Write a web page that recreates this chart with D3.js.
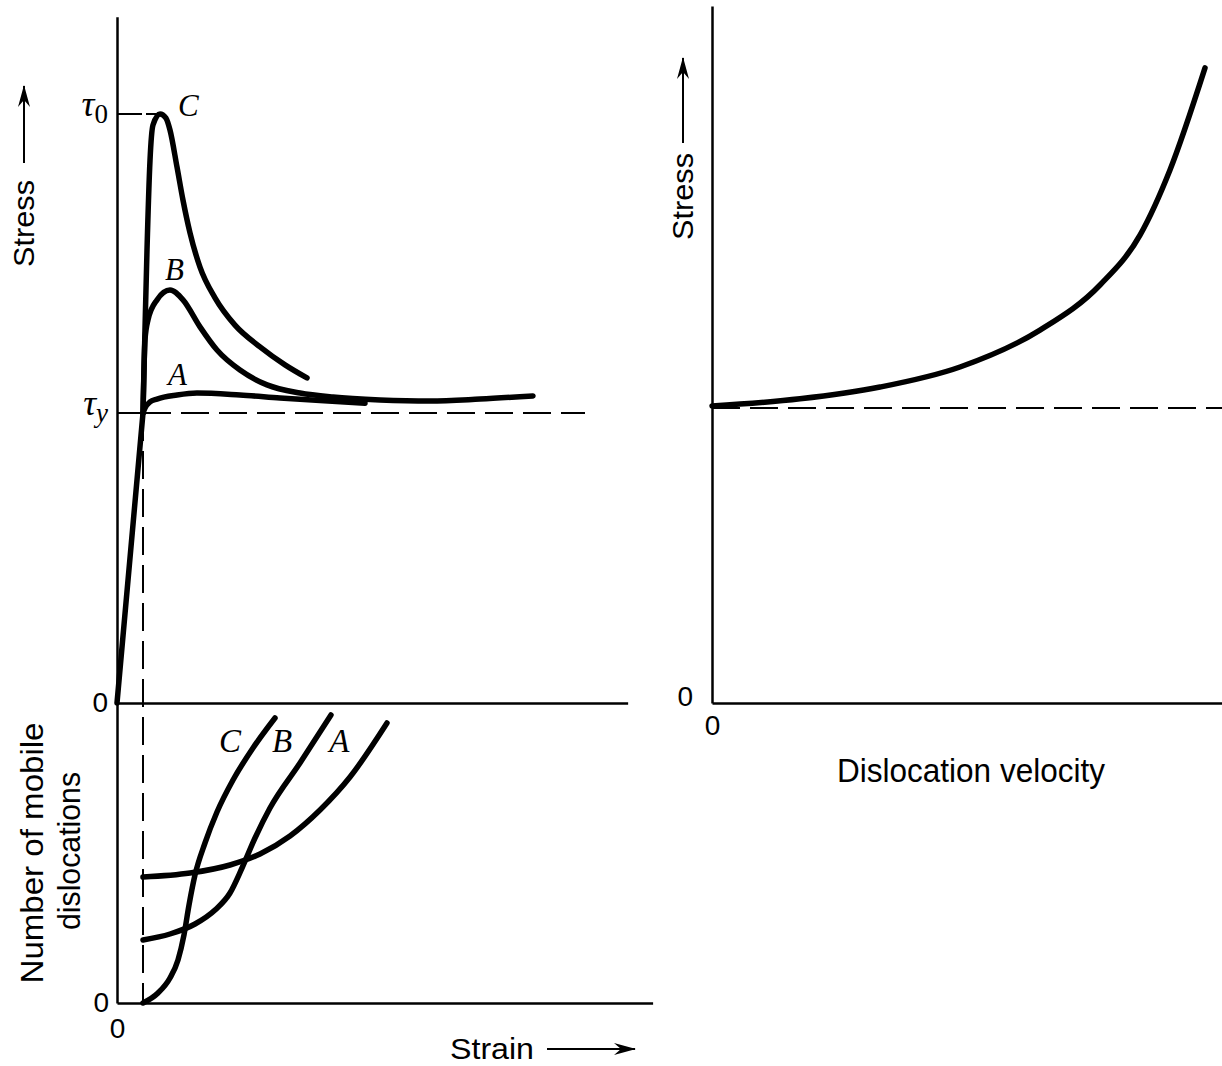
<!DOCTYPE html>
<html>
<head>
<meta charset="utf-8">
<script src="https://cdn.jsdelivr.net/npm/d3@7"></script>
<style>
  html, body { margin: 0; padding: 0; background: #fff; }
  svg { display: block; }
  .sans { font-family: "Liberation Sans", Arial, Helvetica, sans-serif; fill: #000; }
  .serif { font-family: "Liberation Serif", "Times New Roman", serif; font-style: italic; fill: #000; }
</style>
</head>
<body>
<div id="chart"></div>
<script>
// stress-strain curves, strain in arbitrary units (yield strain = 5), stress in units of tau_y
const elastic = [[0, 0], [5, 1.0]];
const stressC = [[5, 1.0], [5.38, 1.286], [5.77, 1.562], [6.35, 1.872], [6.92, 1.993], [8.27, 2.031],
  [9.42, 2.017], [10.19, 1.976], [11.54, 1.848], [12.69, 1.734], [14.04, 1.621], [15.96, 1.503],
  [18.85, 1.397], [22.69, 1.303], [27.5, 1.228], [32.31, 1.166], [36.54, 1.121]];
const stressB = [[5, 1.0], [5.38, 1.252], [5.96, 1.321], [7.69, 1.39], [10.19, 1.424], [12.69, 1.39],
  [15.96, 1.297], [19.23, 1.217], [23.65, 1.148], [28.85, 1.097], [35.19, 1.069], [41.54, 1.055],
  [50.58, 1.045], [60.19, 1.041], [69.81, 1.048], [80.0, 1.059]];
const stressA = [[5, 1.0], [5.38, 1.017], [6.35, 1.038], [7.69, 1.048], [11.54, 1.062], [15.38, 1.069],
  [23.65, 1.062], [31.35, 1.052], [39.04, 1.043], [47.69, 1.034]];

// number of mobile dislocations vs strain (0..10)
const mobileC = [[5, 0], [7.88, 0.333], [10.19, 0.833], [11.73, 1.433], [12.88, 2.267], [13.85, 3.267],
  [15.0, 4.267], [16.92, 5.333], [19.23, 6.367], [22.31, 7.433], [26.15, 8.5], [30.38, 9.5]];
const mobileB = [[5, 2.1], [10.19, 2.3], [15.0, 2.633], [18.85, 3.1], [21.73, 3.667], [24.04, 4.5],
  [26.54, 5.5], [29.42, 6.5], [35.19, 8.0], [41.15, 9.6]];
const mobileA = [[5, 4.2], [14.04, 4.333], [21.73, 4.6], [27.5, 4.967], [33.27, 5.567], [39.04, 6.433],
  [44.81, 7.533], [51.92, 9.333]];

// stress vs dislocation velocity (velocity 0..100)
const velocityCurve = [[0, 1.007], [17.25, 1.031], [32.94, 1.071], [48.63, 1.139], [64.31, 1.264],
  [76.08, 1.417], [83.92, 1.586], [89.8, 1.807], [96.67, 2.153]];

const tauY = 1.0;
const tau0 = 2.031;
const yieldStrain = 5;
const peakStrainC = 8.27;

// axis extents
const topStrainMax = 98.2;
const bottomStrainMax = 103;
const topStressMax = 2.366;
const mobileMax = 10;
const velocityMax = 100;
const rightStressMax = 2.363;
const tauYDashEnd = 90;

// curve labels [text, x, y]
const topLabels = [["C", 11.73, 2.024], ["B", 9.23, 1.459], ["A", 9.81, 1.097]];
const bottomLabels = [["C", 19.6, 8.37], ["B", 29.8, 8.37], ["A", 40.8, 8.37]];

const W = 1222, H = 1066;
const svg = d3.select("#chart").append("svg").attr("width", W).attr("height", H);

const defs = svg.append("defs");
defs.append("marker")
  .attr("id", "arrow")
  .attr("viewBox", "0 0 22 12")
  .attr("refX", 21).attr("refY", 6)
  .attr("markerWidth", 22).attr("markerHeight", 12)
  .attr("markerUnits", "userSpaceOnUse")
  .attr("orient", "auto")
  .append("path")
  .attr("d", "M0,0 L22,6 L0,12 L7,6 Z")
  .attr("fill", "#000");

// scales
const x = d3.scaleLinear().domain([0, 100]).range([117, 637]);
const yTop = d3.scaleLinear().domain([0, 1]).range([703, 413]);
const yN = d3.scaleLinear().domain([0, mobileMax]).range([1003, 703]);
const xV = d3.scaleLinear().domain([0, velocityMax]).range([712, 1222]);
const yR = d3.scaleLinear().domain([0, 1]).range([703, 408]);

const xTopAxis = x.copy().domain([0, topStrainMax]).range([x(0), x(topStrainMax)]);
const xBotAxis = x.copy().domain([0, bottomStrainMax]).range([x(0), x(bottomStrainMax)]);
const yTopAxis = yTop.copy().domain([0, topStressMax]).range([yTop(0), yTop(topStressMax)]);
const yRAxis = yR.copy().domain([0, rightStressMax]).range([yR(0), yR(rightStressMax)]);

function styleAxis(g, showLabel) {
  g.select(".domain").attr("stroke", "#000").attr("stroke-width", 2.5);
  g.selectAll(".tick line").remove();
  g.selectAll(".tick text")
    .attr("class", "sans")
    .style("font-size", "28px")
    .style("display", showLabel ? null : "none");
}

// top panel axes
svg.append("g").attr("transform", `translate(${x(0)},0)`)
  .call(d3.axisLeft(yTopAxis).tickValues([0]).tickSize(0).tickSizeOuter(0).tickPadding(9).tickFormat(d3.format("d")))
  .call(g => styleAxis(g, true));
svg.append("g").attr("transform", `translate(0,${yTop(0)})`)
  .call(d3.axisBottom(xTopAxis).tickValues([]).tickSizeOuter(0))
  .call(g => styleAxis(g, false));

// bottom panel axes
svg.append("g").attr("transform", `translate(${x(0)},0)`)
  .call(d3.axisLeft(yN).tickValues([0]).tickSize(0).tickSizeOuter(0).tickPadding(8).tickFormat(d3.format("d")))
  .call(g => styleAxis(g, true));
svg.append("g").attr("transform", `translate(0,${yN(0)})`)
  .call(d3.axisBottom(xBotAxis).tickValues([0]).tickSize(0).tickSizeOuter(0).tickPadding(15).tickFormat(d3.format("d")))
  .call(g => styleAxis(g, true));

// right panel axes
svg.append("g").attr("transform", `translate(${xV(0)},0)`)
  .call(d3.axisLeft(yRAxis).tickValues([0]).tickSize(0).tickSizeOuter(0).tickPadding(19).tickFormat(d3.format("d")))
  .call(g => styleAxis(g, true))
  .selectAll(".tick text").attr("dy", "0.1em");
svg.append("g").attr("transform", `translate(0,${yR(0)})`)
  .call(d3.axisBottom(xV).tickValues([0]).tickSize(0).tickSizeOuter(0).tickPadding(12).tickFormat(d3.format("d")))
  .call(g => styleAxis(g, true));

const dash = "28,10";

// reference lines, top panel
svg.append("line")
  .attr("x1", x(0)).attr("x2", x(2.5)).attr("y1", yTop(tau0)).attr("y2", yTop(tau0))
  .attr("stroke", "#000").attr("stroke-width", 2);
svg.append("line")
  .attr("x1", x(2.5)).attr("x2", x(peakStrainC)).attr("y1", yTop(tau0)).attr("y2", yTop(tau0))
  .attr("stroke", "#000").attr("stroke-width", 2).attr("stroke-dasharray", "12,4");
svg.append("line")
  .attr("x1", x(0)).attr("x2", x(yieldStrain)).attr("y1", yTop(tauY)).attr("y2", yTop(tauY))
  .attr("stroke", "#000").attr("stroke-width", 2);
svg.append("line")
  .attr("x1", x(yieldStrain)).attr("x2", x(tauYDashEnd)).attr("y1", yTop(tauY)).attr("y2", yTop(tauY))
  .attr("stroke", "#000").attr("stroke-width", 2).attr("stroke-dasharray", dash);
// vertical dashed at yield strain through both panels
svg.append("line")
  .attr("x1", x(yieldStrain)).attr("x2", x(yieldStrain)).attr("y1", yTop(tauY)).attr("y2", yN(0))
  .attr("stroke", "#000").attr("stroke-width", 2).attr("stroke-dasharray", dash);
// right panel dashed
svg.append("line")
  .attr("x1", xV(0)).attr("x2", xV(velocityMax)).attr("y1", yR(tauY)).attr("y2", yR(tauY))
  .attr("stroke", "#000").attr("stroke-width", 2).attr("stroke-dasharray", dash);

// curves
const lineTop = d3.line().x(d => x(d[0])).y(d => yTop(d[1])).curve(d3.curveMonotoneX);
const lineBot = d3.line().x(d => x(d[0])).y(d => yN(d[1])).curve(d3.curveMonotoneX);
const lineR = d3.line().x(d => xV(d[0])).y(d => yR(d[1])).curve(d3.curveMonotoneX);

function drawCurve(data, gen) {
  svg.append("path")
    .attr("d", gen(data))
    .attr("fill", "none")
    .attr("stroke", "#000")
    .attr("stroke-width", 5.5)
    .attr("stroke-linecap", "round")
    .attr("stroke-linejoin", "round");
}
[elastic, stressC, stressB, stressA].forEach(d => drawCurve(d, lineTop));
[mobileC, mobileB, mobileA].forEach(d => drawCurve(d, lineBot));
drawCurve(velocityCurve, lineR);

// curve letters
svg.selectAll(".topLabel").data(topLabels).enter().append("text")
  .attr("class", "serif topLabel")
  .attr("x", d => x(d[1])).attr("y", d => yTop(d[2]))
  .style("font-size", "31px")
  .text(d => d[0]);
svg.selectAll(".botLabel").data(bottomLabels).enter().append("text")
  .attr("class", "serif botLabel")
  .attr("x", d => x(d[1])).attr("y", d => yN(d[2]))
  .style("font-size", "33px")
  .text(d => d[0]);

// tau labels
function tauLabel(value, sub) {
  const t = svg.append("text")
    .attr("class", "serif")
    .attr("x", 108).attr("y", yTop(value) + 2)
    .attr("text-anchor", "end")
    .style("font-size", "36px");
  t.append("tspan").text("τ");
  t.append("tspan").attr("dy", 7).style("font-size", "27px").style("font-style", sub === "0" ? "normal" : "italic").text(sub);
}
tauLabel(tau0, "0");
tauLabel(tauY, "y");

// axis titles
function rotatedTitle(text, bx, startY, len, size) {
  svg.append("text")
    .attr("class", "sans")
    .attr("transform", `translate(${bx},${startY}) rotate(-90)`)
    .attr("textLength", len)
    .attr("lengthAdjust", "spacingAndGlyphs")
    .style("font-size", size + "px")
    .text(text);
}
function arrowLine(x1, y1, x2, y2) {
  svg.append("line")
    .attr("x1", x1).attr("y1", y1).attr("x2", x2).attr("y2", y2)
    .attr("stroke", "#000").attr("stroke-width", 2)
    .attr("marker-end", "url(#arrow)");
}

rotatedTitle("Stress", 34, 267, 87, 29);
arrowLine(24, 163, 24, 86);
rotatedTitle("Stress", 693, 240, 87, 29);
arrowLine(683, 143, 683, 58);

svg.append("text").attr("class", "sans")
  .attr("x", 450).attr("y", 1059)
  .attr("textLength", 84).attr("lengthAdjust", "spacingAndGlyphs")
  .style("font-size", "30px").text("Strain");
arrowLine(547, 1049, 635, 1049);

svg.append("text").attr("class", "sans")
  .attr("x", 837).attr("y", 782)
  .attr("textLength", 268).attr("lengthAdjust", "spacingAndGlyphs")
  .style("font-size", "34px").text("Dislocation velocity");

// "Number of mobile dislocations", centered on the bottom panel
svg.append("text").attr("class", "sans")
  .attr("transform", `translate(43,${853}) rotate(-90)`)
  .attr("text-anchor", "middle")
  .attr("textLength", 261).attr("lengthAdjust", "spacingAndGlyphs")
  .style("font-size", "32px").text("Number of mobile");
svg.append("text").attr("class", "sans")
  .attr("transform", `translate(80,${851}) rotate(-90)`)
  .attr("text-anchor", "middle")
  .attr("textLength", 158).attr("lengthAdjust", "spacingAndGlyphs")
  .style("font-size", "32px").text("dislocations");
</script>
</body>
</html>
